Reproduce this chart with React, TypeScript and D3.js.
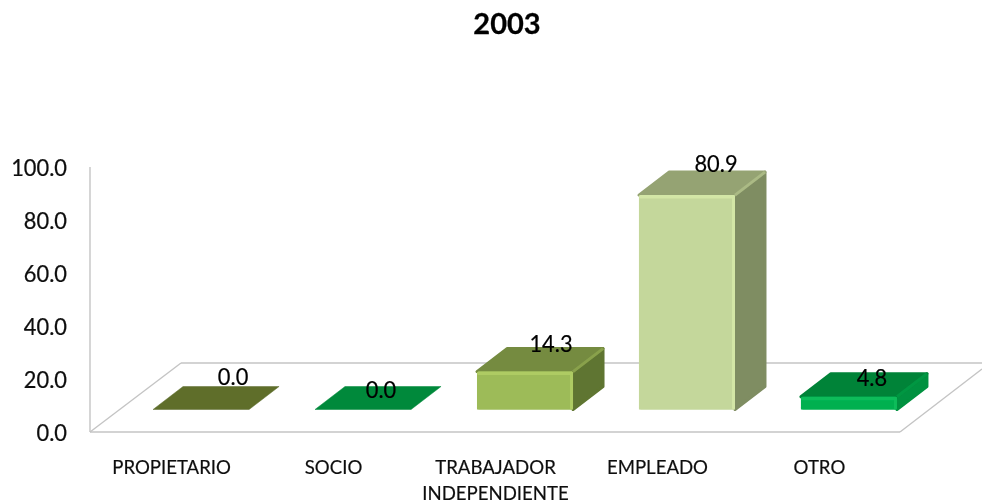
import React from "react";
import * as d3 from "d3";

const categories = ["PROPIETARIO", "SOCIO", "TRABAJADOR|INDEPENDIENTE", "EMPLEADO", "OTRO"];
const values = [0.0, 0.0, 14.3, 80.9, 4.8];
const yTicks = [0, 20, 40, 60, 80, 100];
const frontColors = ["#6b7a33", "#059144", "#9dbb58", "#c4d79b", "#00b050"];
const topColors = ["#5f6e2c", "#03893b", "#758b40", "#95a373", "#028338"];
const sideColors = ["#56652a", "#027a35", "#5f7530", "#7f8d62", "#03913f"];
const lightColors = ["#6b7a33", "#059144", "#aecb64", "#d3e6a6", "#0cbc5a"];
const labelDx = [32, 18, 26, 29, 23];
const labelDy = [-25, -11.5, -19.5, -23, -11];

const W = 982, H = 504;
const FONT = "Lato, Carlito, 'Open Sans', sans-serif";
const DEPTH_X = 30, DEPTH_Y = 23;

const floorY = 432, wallX = 90;
const y = d3.scaleLinear().domain([0, 100]).range([floorY, 167]);
const x = d3.scaleBand<string>().domain(categories).range([120, 930]).paddingInner(0.407).paddingOuter(0.204);
const baseOffset = floorY - 409.5;

const poly = d3.line<[number, number]>().curve(d3.curveLinearClosed);

export default function App() {
  const bw = x.bandwidth();
  return (
    <svg width={W} height={H} viewBox={`0 0 ${W} ${H}`} style={{ position: "absolute", left: 0, top: 0, background: "#fff" }}>
      <defs>
        <filter id="soft" x="-5%" y="-5%" width="110%" height="110%"><feGaussianBlur stdDeviation="0.55" /></filter>
      </defs>
      <g filter="url(#soft)">
        <text x={507} y={34} textAnchor="middle" fontFamily={FONT} fontWeight={700} fontSize={29} fill="#000" stroke="#000" strokeWidth={0.3}>2003</text>

        <g fill="none" stroke="#c4c4c4" strokeWidth={1.4}>
          <line x1={wallX} y1={y(100)} x2={wallX} y2={floorY} />
          <line x1={wallX} y1={floorY} x2={900} y2={floorY} />
          <line x1={wallX} y1={floorY} x2={181} y2={363} />
          <line x1={181} y1={363} x2={982} y2={363} />
          <line x1={900} y1={floorY} x2={982} y2={369} />
        </g>

        {yTicks.map((t) => (
          <text key={t} transform={`translate(67,${y(t) + 8.5}) scale(0.91,1)`} textAnchor="end" fontFamily={FONT} fontSize={24} fill="#111" stroke="#111" strokeWidth={0.25}>
            {t.toFixed(1)}
          </text>
        ))}

        {categories.map((c, i) => {
          const x0 = x(c) as number;
          const x1 = x0 + bw;
          const yb = y(0) - baseOffset;
          const yt = y(values[i]) - baseOffset;
          const h = yb - yt;
          const flat = h < 1;
          const top: [number, number][] = [[x0, yt], [x1, yt], [x1 + DEPTH_X, yt - DEPTH_Y], [x0 + DEPTH_X, yt - DEPTH_Y]];
          const side: [number, number][] = [[x1, yt], [x1 + DEPTH_X, yt - DEPTH_Y], [x1 + DEPTH_X, yb - DEPTH_Y], [x1, yb]];
          const lines = c.split("|");
          return (
            <g key={c}>
              {!flat && <path d={poly(side) as string} fill={sideColors[i]} stroke={sideColors[i]} strokeLinejoin="round" strokeWidth={3} />}
              <path d={poly(top) as string} fill={topColors[i]} stroke={topColors[i]} strokeLinejoin="round" strokeWidth={flat ? 0.5 : 3} />
              {!flat && (
                <>
                  <line x1={x1} y1={yt} x2={x1 + DEPTH_X} y2={yt - DEPTH_Y} stroke={lightColors[i]} strokeOpacity={0.35} strokeWidth={3} />
                  <rect x={x0} y={yt} width={bw} height={h} rx={2} fill={frontColors[i]} />
                  <rect x={x0} y={yb - 2} width={bw} height={2} fill={frontColors[i]} />
                  <rect x={x0} y={yt} width={bw} height={3.5} rx={1.5} fill={lightColors[i]} />
                  <rect x={x1 - 3} y={yt} width={3} height={h} rx={1.5} fill={lightColors[i]} />
                </>
              )}
              <text transform={`translate(${x0 + bw / 2 + labelDx[i]},${yt + labelDy[i]}) scale(0.91,1)`} textAnchor="middle" fontFamily={FONT} fontSize={24} fill="#000" stroke="#000" strokeWidth={0.2}>
                {values[i].toFixed(1)}
              </text>
              {lines.map((l, k) => (
                <text key={l} x={x0 + bw / 2 - 29.5} y={474 + k * 26} textAnchor="middle" fontFamily={FONT} fontSize={18.6} fill="#111" stroke="#111" strokeWidth={0.2}>
                  {l}
                </text>
              ))}
            </g>
          );
        })}
      </g>
    </svg>
  );
}
